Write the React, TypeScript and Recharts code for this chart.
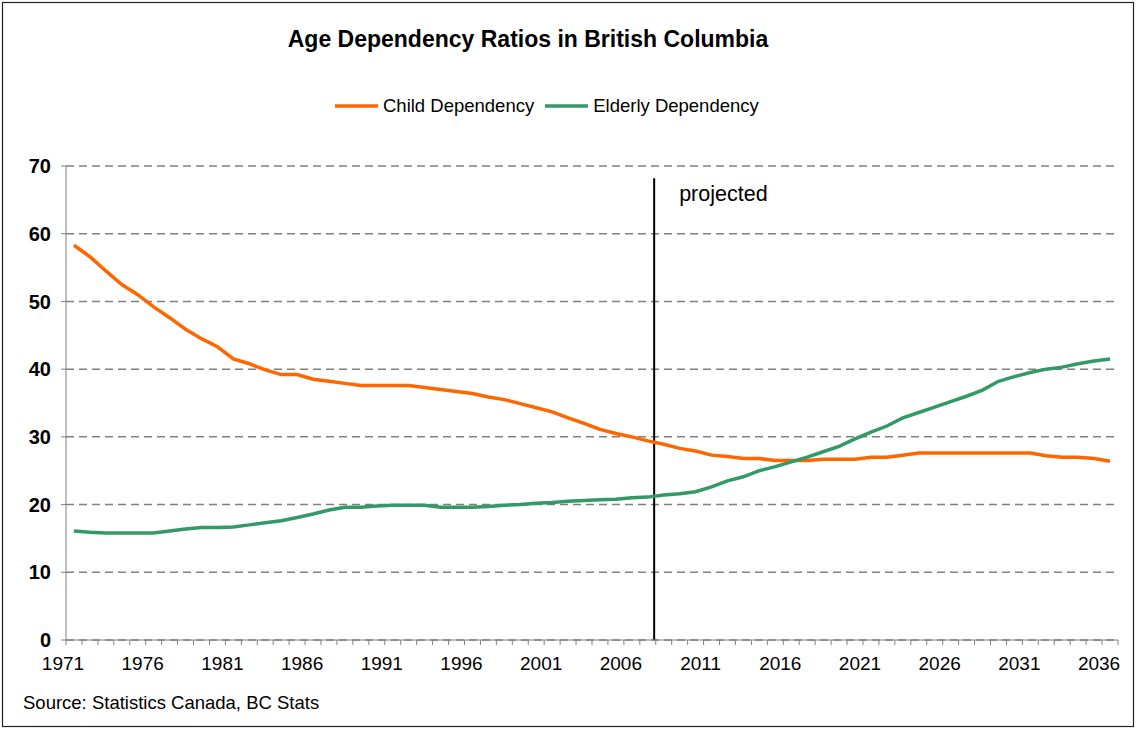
import {
  CartesianGrid,
  Legend,
  Line,
  LineChart,
  ReferenceLine,
  XAxis,
  YAxis,
} from "recharts";

const YEARS = [
  1971, 1972, 1973, 1974, 1975, 1976, 1977, 1978, 1979, 1980,
  1981, 1982, 1983, 1984, 1985, 1986, 1987, 1988, 1989, 1990,
  1991, 1992, 1993, 1994, 1995, 1996, 1997, 1998, 1999, 2000,
  2001, 2002, 2003, 2004, 2005, 2006, 2007, 2008, 2009, 2010,
  2011, 2012, 2013, 2014, 2015, 2016, 2017, 2018, 2019, 2020,
  2021, 2022, 2023, 2024, 2025, 2026, 2027, 2028, 2029, 2030,
  2031, 2032, 2033, 2034, 2035, 2036,
];

// ratio per 100 working-age people
const CHILD = [
  58.3, 56.6, 54.5, 52.5, 51.0, 49.2, 47.6, 45.9, 44.5, 43.3,
  41.5, 40.8, 39.9, 39.2, 39.2, 38.5, 38.2, 37.9, 37.6, 37.6,
  37.6, 37.6, 37.3, 37.0, 36.7, 36.4, 35.9, 35.5, 34.9, 34.3,
  33.7, 32.8, 32.0, 31.1, 30.5, 30.0, 29.4, 28.9, 28.3, 27.9,
  27.3, 27.1, 26.8, 26.8, 26.5, 26.5, 26.5, 26.7, 26.7, 26.7,
  27.0, 27.0, 27.3, 27.6, 27.6, 27.6, 27.6, 27.6, 27.6, 27.6,
  27.6, 27.2, 27.0, 27.0, 26.8, 26.4,
];

const ELDERLY = [
  16.1, 15.9, 15.8, 15.8, 15.8, 15.8, 16.1, 16.4, 16.6, 16.6,
  16.7, 17.0, 17.3, 17.6, 18.1, 18.6, 19.2, 19.6, 19.6, 19.8,
  19.9, 19.9, 19.9, 19.6, 19.6, 19.6, 19.7, 19.9, 20.0, 20.2,
  20.3, 20.5, 20.6, 20.7, 20.8, 21.0, 21.1, 21.4, 21.6, 21.9,
  22.6, 23.5, 24.1, 25.0, 25.6, 26.3, 27.0, 27.8, 28.6, 29.7,
  30.7, 31.6, 32.8, 33.6, 34.4, 35.2, 36.0, 36.9, 38.2, 38.9,
  39.5, 40.0, 40.3, 40.8, 41.2, 41.5,
];

const LABEL_YEARS = [1971, 1976, 1981, 1986, 1991, 1996, 2001, 2006, 2011, 2016, 2021, 2026, 2031, 2036];
const Y_TICKS = [0, 10, 20, 30, 40, 50, 60, 70];
const PROJECTION_START = 2007.4;

const FONT = "'Liberation Sans', Arial, sans-serif";
const ORANGE = "#ff6600";
const GREEN = "#339966";

const rows = YEARS.map((year, i) => ({ year, child: CHILD[i], elderly: ELDERLY[i] }));
// Excel-style category axis: tick marks sit between the years
const boundaries = [...YEARS.map((y) => y - 0.5), YEARS[YEARS.length - 1] + 0.5];

function YearTick(props: any) {
  const { x, y, payload } = props;
  const year = payload.value + 0.5;
  if (!LABEL_YEARS.includes(year)) return null;
  return (
    <text x={x - 3} y={y + 23} textAnchor="middle" fontSize={19} fill="#000">
      {year}
    </text>
  );
}

function LegendContent(props: any) {
  const items = props.payload ?? [];
  return (
    <div style={{ display: "flex", alignItems: "center", paddingLeft: 335, fontFamily: FONT, fontSize: 18.5 }}>
      {items.map((item: any) => (
        <div key={item.value} style={{ display: "flex", alignItems: "center", marginRight: 11 }}>
          <svg width={43} height={6} style={{ marginRight: 5 }}>
            <line x1={0} y1={3} x2={43} y2={3} stroke={item.color} strokeWidth={3.5} />
          </svg>
          <span>{item.value}</span>
        </div>
      ))}
    </div>
  );
}

export default function App() {
  return (
    <div style={{ position: "absolute", left: 0, top: 0, width: 1137, height: 732, background: "#fff" }}>
      <LineChart
        width={1137}
        height={732}
        data={rows}
        margin={{ top: 166, right: 19, bottom: 62, left: 0 }}
        style={{ fontFamily: FONT }}
      >
        <CartesianGrid vertical={false} stroke="#808080" strokeDasharray="8 5" strokeWidth={1.5} />
        <XAxis
          dataKey="year"
          type="number"
          domain={[boundaries[0], boundaries[boundaries.length - 1]]}
          ticks={boundaries}
          interval={0}
          height={30}
          tickSize={5}
          tickMargin={2}
          stroke="#808080"
          tick={<YearTick />}
        />
        <YAxis
          domain={[0, 70]}
          ticks={Y_TICKS}
          width={66}
          tickSize={5}
          tickMargin={10}
          stroke="#808080"
          tick={{ fill: "#000", fontSize: 20, fontWeight: "bold" }}
        />
        <Legend
          layout="horizontal"
          verticalAlign="middle"
          align="center"
          wrapperStyle={{ left: 0, top: 95, width: 1137 }}
          content={<LegendContent />}
        />
        <ReferenceLine
          segment={[
            { x: PROJECTION_START, y: 68.2 },
            { x: PROJECTION_START, y: 0 },
          ]}
          stroke="#000"
          strokeWidth={2}
          label={(p: any) => (
            <text x={p.viewBox.x + 25} y={p.viewBox.y + 23} fontSize={21.5} fill="#000">
              projected
            </text>
          )}
        />
        <Line
          type="linear"
          dataKey="child"
          name="Child Dependency"
          stroke={ORANGE}
          strokeWidth={3.5}
          dot={false}
          isAnimationActive={false}
        />
        <Line
          type="linear"
          dataKey="elderly"
          name="Elderly Dependency"
          stroke={GREEN}
          strokeWidth={3.5}
          dot={false}
          isAnimationActive={false}
        />
      </LineChart>
      <svg
        width={1137}
        height={732}
        style={{ position: "absolute", left: 0, top: 0, pointerEvents: "none", fontFamily: FONT }}
      >
        <rect x={2.5} y={2.5} width={1131} height={724} fill="none" stroke="#222" strokeWidth={1.2} />
        <text x={528} y={47} textAnchor="middle" fontSize={23} fontWeight="bold" fill="#000">
          Age Dependency Ratios in British Columbia
        </text>
        <text x={23} y={709} fontSize={18.5} fill="#000">
          Source: Statistics Canada, BC Stats
        </text>
      </svg>
    </div>
  );
}
